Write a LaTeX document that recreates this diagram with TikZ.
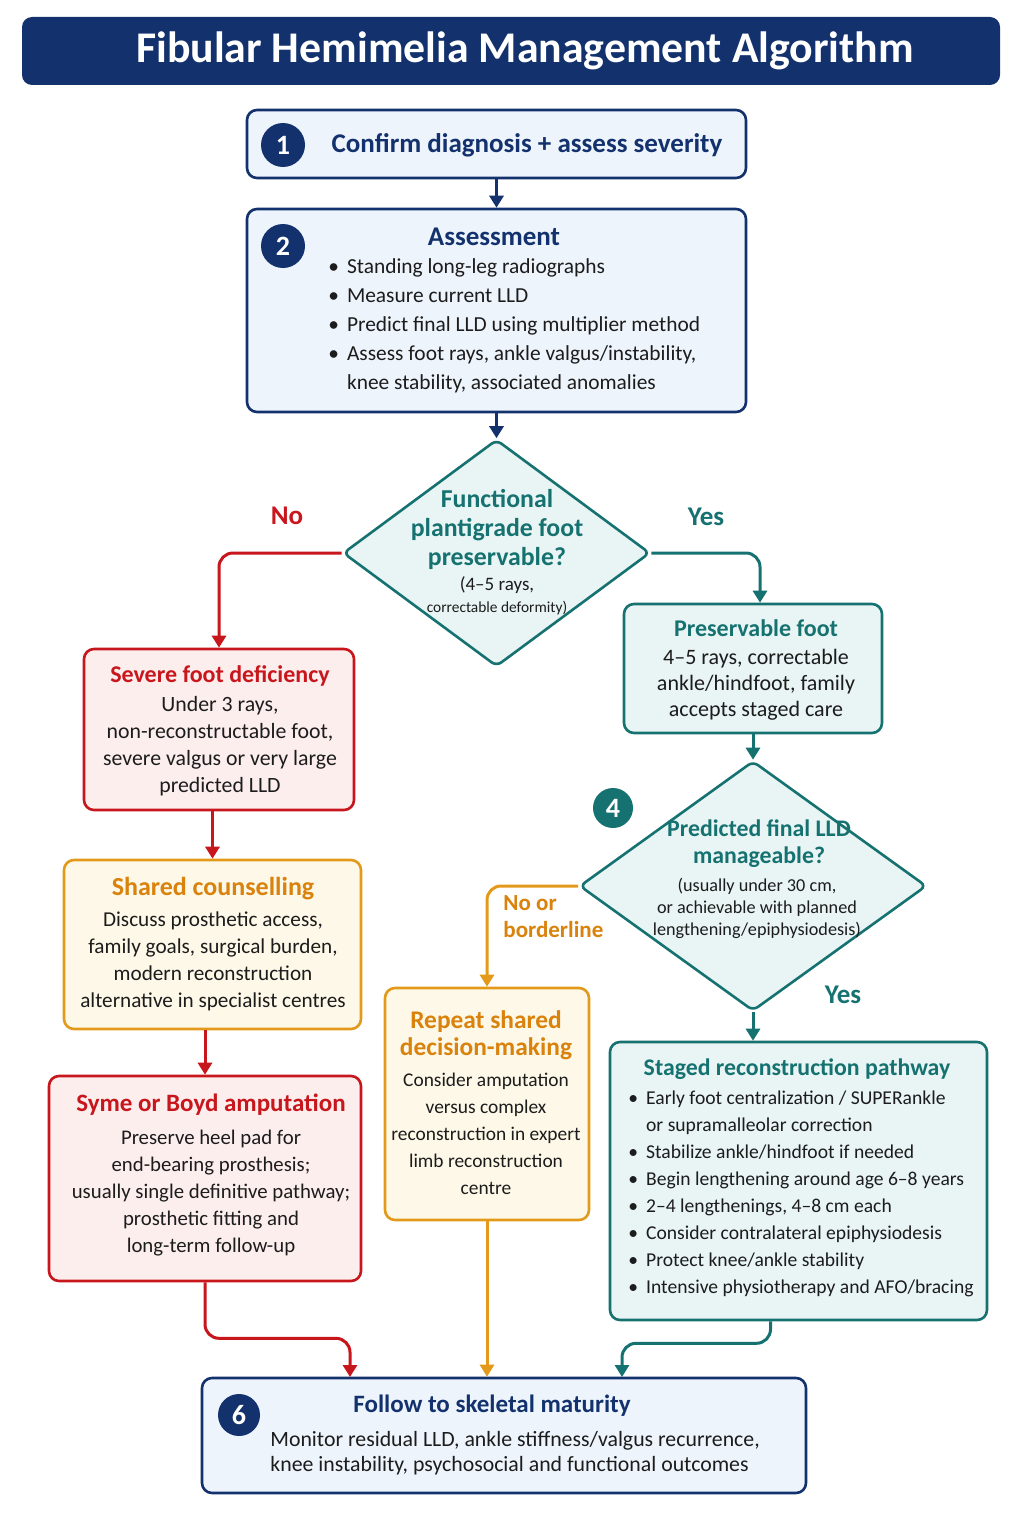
\documentclass[tikz,border=0pt]{standalone}
\usepackage{fontspec}
\setmainfont{Carlito}
\usetikzlibrary{shapes.geometric, arrows.meta}

\definecolor{navy}{HTML}{12316D}
\definecolor{navyfill}{HTML}{EEF4FC}
\definecolor{redline}{HTML}{C8161D}
\definecolor{redfill}{HTML}{FDEEEE}
\definecolor{orangeline}{HTML}{E39A1B}
\definecolor{orangetext}{HTML}{D9820C}
\definecolor{orangefill}{HTML}{FEF8E8}
\definecolor{tealline}{HTML}{167270}
\definecolor{tealfill}{HTML}{E8F5F4}
\definecolor{ink}{HTML}{1C1C1C}

\newcommand{\bul}{\textbullet\hspace{4pt}}
\newcommand{\bulcont}{\phantom{\textbullet}\hspace{4pt}}
\newcommand{\orhead}[1]{{\bfseries\fontsize{12.7}{15.5}\selectfont\color{orangetext}#1}}

\tikzset{
    box/.style={draw, rectangle, rounded corners=5pt, line width=1.3pt, inner sep=0pt},
    bluebox/.style={box, draw=navy, fill=navyfill},
    redbox/.style={box, draw=redline, fill=redfill},
    orangebox/.style={box, draw=orangeline, fill=orangefill},
    tealbox/.style={box, draw=tealline, fill=tealfill},
    decision/.style={diamond, draw=tealline, fill=tealfill, line width=1.3pt, inner sep=0pt, rounded corners=3pt},
    num/.style={circle, inner sep=0pt, minimum size=22pt, text=white, font=\bfseries\fontsize{14}{14}\selectfont},
    boxtext/.style={text=ink, inner sep=0pt, align=center, font=\fontsize{10.6}{13.5}\selectfont},
    listtext/.style={text=ink, inner sep=0pt, align=left, anchor=west, font=\fontsize{10.7}{14.5}\selectfont},
    headtext/.style={inner sep=0pt, align=center, font=\bfseries\fontsize{13.5}{14.5}\selectfont},
    lbltext/.style={inner sep=0pt, font=\bfseries\fontsize{13.5}{13.5}\selectfont},
    conn/.style={line width=1.5pt, rounded corners=7pt, -{Triangle[length=6pt, width=7pt]}},
}

\begin{document}
\begin{tikzpicture}[x=0.5pt, y=-0.5pt]
        \useasboundingbox (0,0) rectangle (1024,1536);
        \fill[white] (0,0) rectangle (1024,1536);

        % Title
        \node[fill=navy, rounded corners=5pt, minimum width=489pt, minimum height=34pt, text=white, font=\bfseries\fontsize{21.9}{24}\selectfont] (title) at (511,51) {\hspace*{14pt}Fibular Hemimelia Management Algorithm};

        % Nodes
        \node[bluebox, minimum width=249.5pt, minimum height=34pt] (confirm) at (496.5,144) {};
        \node[num, fill=navy] (n1) at (283,145) {1};
        \node[headtext, text=navy] (confirmtxt) at (527,145) {Confirm diagnosis + assess severity};

        \node[bluebox, minimum width=249.5pt, minimum height=101.5pt] (assess) at (496.5,310.5) {};
        \node[num, fill=navy] (n2) at (283,246) {2};
        \node[headtext, text=navy] (assesshead) at (494,237) {Assessment};
        \node[listtext] (assesslist) at (328,326) {\bul Standing long-leg radiographs\\ \bul Measure current LLD\\ \bul Predict final LLD using multiplier method\\ \bul Assess foot rays, ankle valgus/instability,\\ \bulcont knee stability, associated anomalies};

        \node[decision, minimum width=153.5pt, minimum height=113.5pt] (foot) at (496.5,553) {};
        \node[headtext, text=tealline, font=\bfseries\fontsize{12.9}{14.5}\selectfont] (foothead) at (497,529) {Functional\\ plantigrade foot\\ preservable?};
        \node[boxtext, font=\fontsize{9.5}{11}\selectfont] (footnote) at (497,596) {(4–5 rays,\\ \fontsize{7.7}{11}\selectfont correctable deformity)};

        \node[redbox, minimum width=135pt, minimum height=80.5pt] (severe) at (219,729.5) {};
        \node[boxtext, font=\fontsize{10.9}{13.5}\selectfont] (severetxt) at (220,731) {{\bfseries\fontsize{12}{14}\selectfont\color{redline}Severe foot deficiency}\\[1pt] Under 3 rays,\\ non-reconstructable foot,\\ severe valgus or very large\\ predicted LLD};

        \node[orangebox, minimum width=148.5pt, minimum height=84.5pt] (counsel) at (212.5,944.5) {};
        \node[boxtext] (counseltxt) at (213,944.5) {{\bfseries\fontsize{13}{14}\selectfont\color{orangetext}Shared counselling}\\[2pt] Discuss prosthetic access,\\ family goals, surgical burden,\\ modern reconstruction\\ alternative in specialist centres};

        \node[redbox, minimum width=156pt, minimum height=102.5pt] (syme) at (205,1178.5) {};
        \node[boxtext, font=\fontsize{10.4}{13.5}\selectfont] (symetxt) at (211,1174.5) {{\bfseries\fontsize{12.5}{14}\selectfont\color{redline}Syme or Boyd amputation}\\[3pt] Preserve heel pad for\\ end-bearing prosthesis;\\ usually single definitive pathway;\\ prosthetic fitting and\\ long-term follow-up};

        \node[tealbox, minimum width=129pt, minimum height=64.5pt] (keep) at (753,668.5) {};
        \node[boxtext, font=\fontsize{11}{13}\selectfont] (keeptxt) at (756,670) {{\bfseries\fontsize{12}{14}\selectfont\color{tealline}Preservable foot}\\[1pt] 4–5 rays, correctable\\ ankle/hindfoot, family\\ accepts staged care};

        \node[decision, minimum width=173.5pt, minimum height=125pt] (lld) at (753,886) {};
        \node[num, fill=tealline, minimum size=20pt] (n4) at (613,808) {4};
        \node[headtext, text=tealline, font=\bfseries\fontsize{11.9}{13.5}\selectfont] (lldhead) at (759,843.5) {Predicted final LLD\\ manageable?};
        \node[boxtext, font=\fontsize{9.1}{11}\selectfont] (lldnote) at (757,908) {(usually under 30 cm,\\ or achievable with planned\\ lengthening/epiphysiodesis)};

        \node[orangebox, minimum width=102pt, minimum height=116pt] (repeat) at (487,1104) {};
        \node[boxtext, font=\fontsize{9.7}{13.5}\selectfont] (repeattxt) at (486,1103) {\orhead{Repeat shared}\\ \orhead{decision-making}\\[2pt] Consider amputation\\ versus complex\\ reconstruction in expert\\ limb reconstruction\\ centre};

        \node[tealbox, minimum width=188.5pt, minimum height=139pt] (staged) at (798.5,1181) {};
        \node[headtext, text=tealline, font=\bfseries\fontsize{11.9}{14}\selectfont] (stagedhead) at (797,1069) {Staged reconstruction pathway};
        \node[listtext, font=\fontsize{9.8}{13.45}\selectfont] (stagedlist) at (628,1194) {\bul Early foot centralization / SUPERankle\\ \bulcont or supramalleolar correction\\ \bul Stabilize ankle/hindfoot if needed\\ \bul Begin lengthening around age 6–8 years\\ \bul 2–4 lengthenings, 4–8 cm each\\ \bul Consider contralateral epiphysiodesis\\ \bul Protect knee/ankle stability\\ \bul Intensive physiotherapy and AFO/bracing};

        \node[bluebox, minimum width=302pt, minimum height=57.5pt] (follow) at (504,1435.5) {};
        \node[num, fill=navy, minimum size=21pt] (n6) at (239,1415) {6};
        \node[headtext, text=navy, font=\bfseries\fontsize{12.5}{14}\selectfont] (followhead) at (492,1406) {Follow to skeletal maturity};
        \node[listtext, font=\fontsize{10.9}{12.5}\selectfont] (followtxt) at (270,1453) {Monitor residual LLD, ankle stiffness/valgus recurrence,\\ knee instability, psychosocial and functional outcomes};

        % Labels
        \node[lbltext, text=redline] (nolbl) at (287,516) {No};
        \node[lbltext, text=tealline] (yeslbl) at (706,517) {Yes};
        \node[lbltext, text=orangetext, align=left, anchor=west, font=\bfseries\fontsize{11.5}{13.5}\selectfont] (borderlbl) at (503,917) {No or\\ borderline};
        \node[lbltext, text=tealline] (yeslbl2) at (843,995) {Yes};

        % Lines
        \coordinate (inA) at (350,1377);
        \coordinate (inC) at (622,1377);
        \draw[conn, navy] (confirm) -- (assess);
        \draw[conn, navy] (assess) -- (foot);
        \draw[conn, redline] (foot.west) -| (severe.north);
        \draw[conn, tealline] (foot.east) -| ([xshift=3.5pt]keep.north);
        \draw[conn, redline] (counsel.north |- severe.south) -- (counsel.north);
        \draw[conn, redline] (syme.north |- counsel.south) -- (syme.north);
        \draw[conn, redline] (syme.south) -- ++(0,56) -| (inA);
        \draw[conn, tealline] (keep) -- (lld);
        \draw[conn, orangeline] (lld.west) -| (repeat.north);
        \draw[conn, orangeline] (repeat.south) -- (repeat.south |- follow.north);
        \draw[conn, tealline] (lld.south) -- (lld.south |- staged.north);
        \draw[conn, tealline] ([xshift=-14pt]staged.south) -- ++(0,22) -| (inC);
    \end{tikzpicture}
\end{document}
